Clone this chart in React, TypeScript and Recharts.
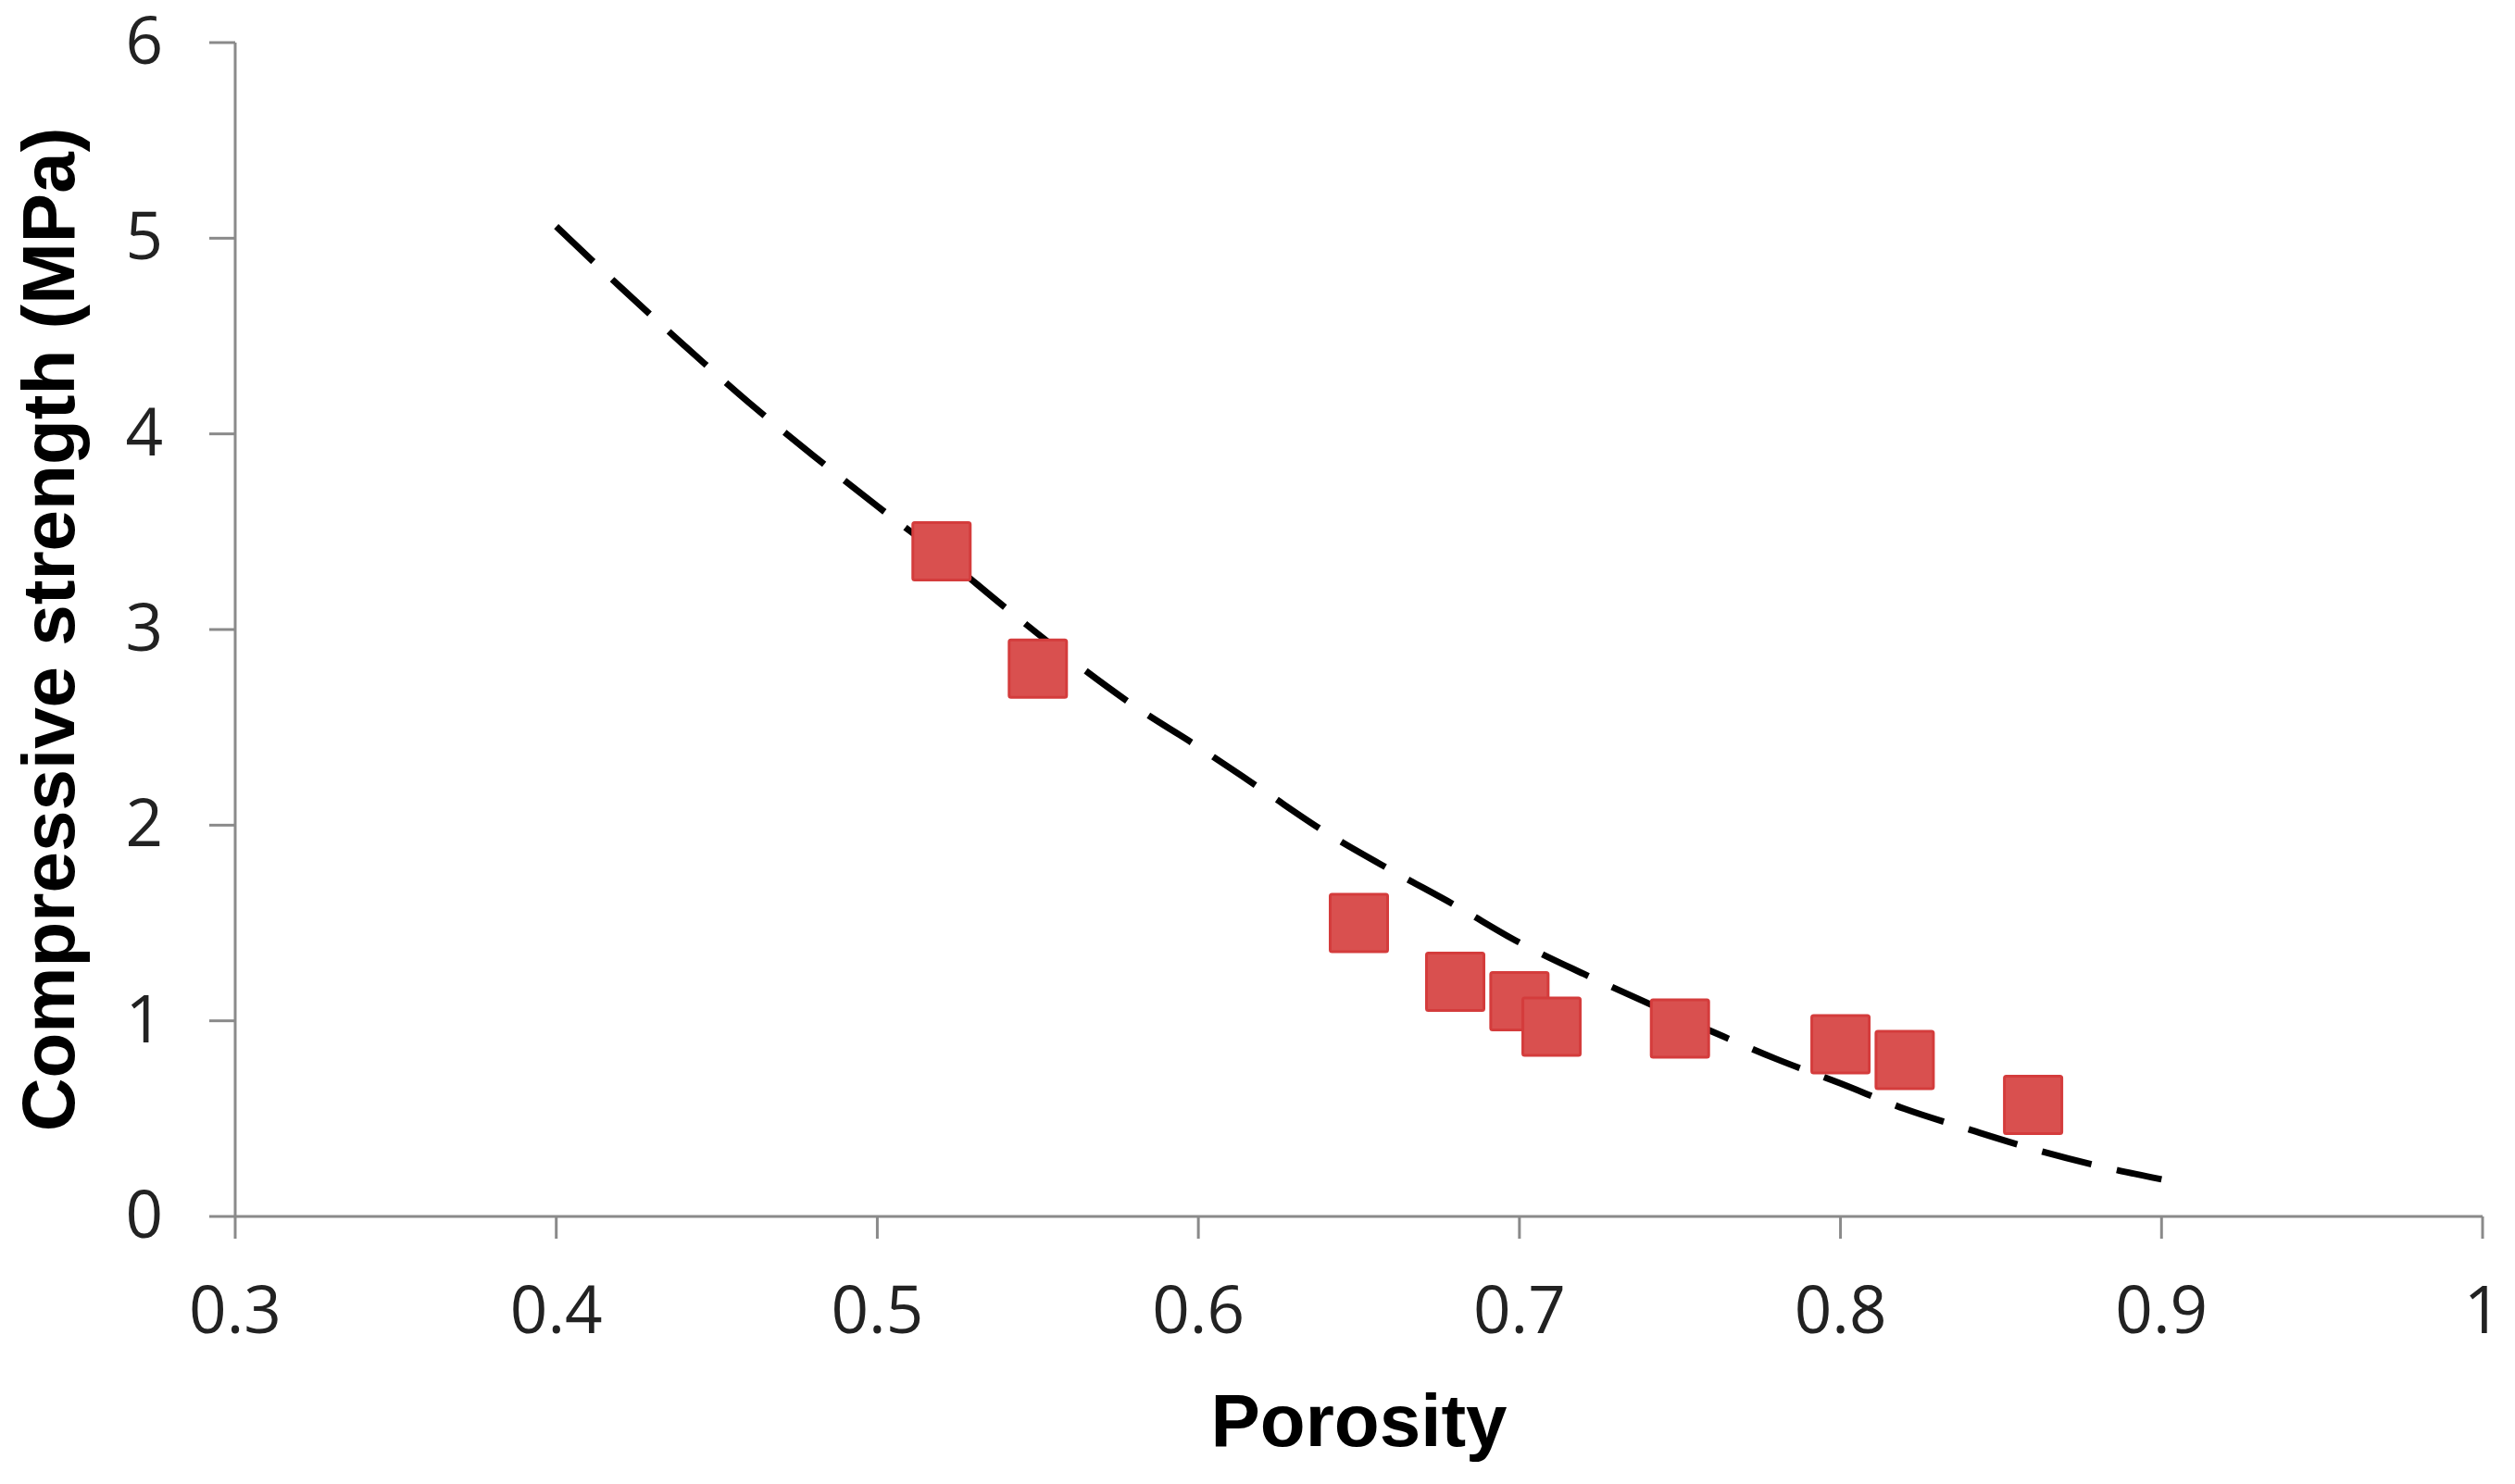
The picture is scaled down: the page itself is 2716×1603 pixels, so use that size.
import { ComposedChart, Line, Scatter, XAxis, YAxis } from 'recharts'

// measured samples (porosity, compressive strength in MPa)
const porosity = [0.52, 0.55, 0.65, 0.68, 0.7, 0.71, 0.75, 0.8, 0.82, 0.86]
const strength = [3.4, 2.8, 1.5, 1.2, 1.1, 0.97, 0.96, 0.88, 0.8, 0.57]

// dashed fit curve
const fitX = [0.4, 0.42, 0.44, 0.46, 0.48, 0.5, 0.52, 0.54, 0.56, 0.58, 0.6, 0.62, 0.64,
  0.66, 0.68, 0.7, 0.72, 0.74, 0.76, 0.78, 0.8, 0.82, 0.84, 0.86, 0.88, 0.9]
const fitY = [5.06, 4.75, 4.45, 4.16, 3.89, 3.63, 3.38, 3.11, 2.85, 2.61, 2.4, 2.18, 1.96,
  1.77, 1.59, 1.4, 1.24, 1.09, 0.945, 0.805, 0.68, 0.55, 0.445, 0.345, 0.26, 0.19]

const xTicks = [0.3, 0.4, 0.5, 0.6, 0.7, 0.8, 0.9, 1]
const yTicks = [0, 1, 2, 3, 4, 5, 6]

const points = porosity.map((x, i) => ({ x, y: strength[i] }))
const curve = fitX.map((x, i) => ({ x, y: fitY[i] }))

const tickFont = "'Open Sans', 'DejaVu Sans', sans-serif"
const titleFont = "'Liberation Sans', Arial, sans-serif"
const axisGrey = '#8a8a8a'

function XTick({ x, y, payload }: any) {
  return (
    <text x={x} y={y} dy={102} textAnchor="middle" fontFamily={tickFont} fontSize={71} fill="#222">
      {payload.value}
    </text>
  )
}

function YTick({ x, y, payload }: any) {
  return (
    <text x={x} y={y} dy={23} textAnchor="end" fontFamily={tickFont} fontSize={71} fill="#222">
      {payload.value}
    </text>
  )
}

function Square({ cx, cy }: any) {
  const s = 62
  return (
    <rect x={cx - s / 2} y={cy - s / 2} width={s} height={s} rx={2}
      fill="#d9504f" stroke="#d43c3c" strokeWidth={3} />
  )
}

function XTitle({ viewBox }: any) {
  const { x = 254, y = 1314, width = 2427 } = viewBox || {}
  return (
    <text x={x + width / 2} y={y + 248} textAnchor="middle" fontFamily={titleFont}
      fontWeight="bold" fontSize={80} fill="#000">
      Porosity
    </text>
  )
}

function YTitle({ viewBox }: any) {
  const { y = 46, height = 1268 } = viewBox || {}
  const cx = 80
  const cy = y + height / 2
  return (
    <text x={cx} y={cy} transform={`rotate(-90, ${cx}, ${cy})`} textAnchor="middle"
      fontFamily={titleFont} fontWeight="bold" fontSize={80} fill="#000">
      Compressive strength (MPa)
    </text>
  )
}

export default function App() {
  return (
    <div style={{ position: 'absolute', left: 0, top: 0, background: '#fff' }}>
      <ComposedChart width={2716} height={1603} margin={{ top: 46, right: 35, left: 0, bottom: 0 }}>
        <XAxis
          type="number"
          dataKey="x"
          domain={[0.3, 1]}
          ticks={xTicks}
          height={289}
          tickSize={24}
          tickMargin={0}
          tick={<XTick />}
          axisLine={{ stroke: axisGrey, strokeWidth: 3 }}
          tickLine={{ stroke: axisGrey, strokeWidth: 3 }}
          label={{ content: (p: any) => <XTitle viewBox={p.viewBox} /> }}
        />
        <YAxis
          type="number"
          dataKey="y"
          domain={[0, 6]}
          ticks={yTicks}
          width={254}
          tickSize={28}
          tickMargin={50}
          tick={<YTick />}
          axisLine={{ stroke: axisGrey, strokeWidth: 3 }}
          tickLine={{ stroke: axisGrey, strokeWidth: 3 }}
          label={{ content: (p: any) => <YTitle viewBox={p.viewBox} /> }}
        />
        <Line
          data={curve}
          dataKey="y"
          type="monotone"
          stroke="#000"
          strokeWidth={7}
          strokeDasharray="55 28"
          dot={false}
          activeDot={false}
          isAnimationActive={false}
        />
        <Scatter data={points} dataKey="y" shape={<Square />} isAnimationActive={false} />
      </ComposedChart>
    </div>
  )
}
